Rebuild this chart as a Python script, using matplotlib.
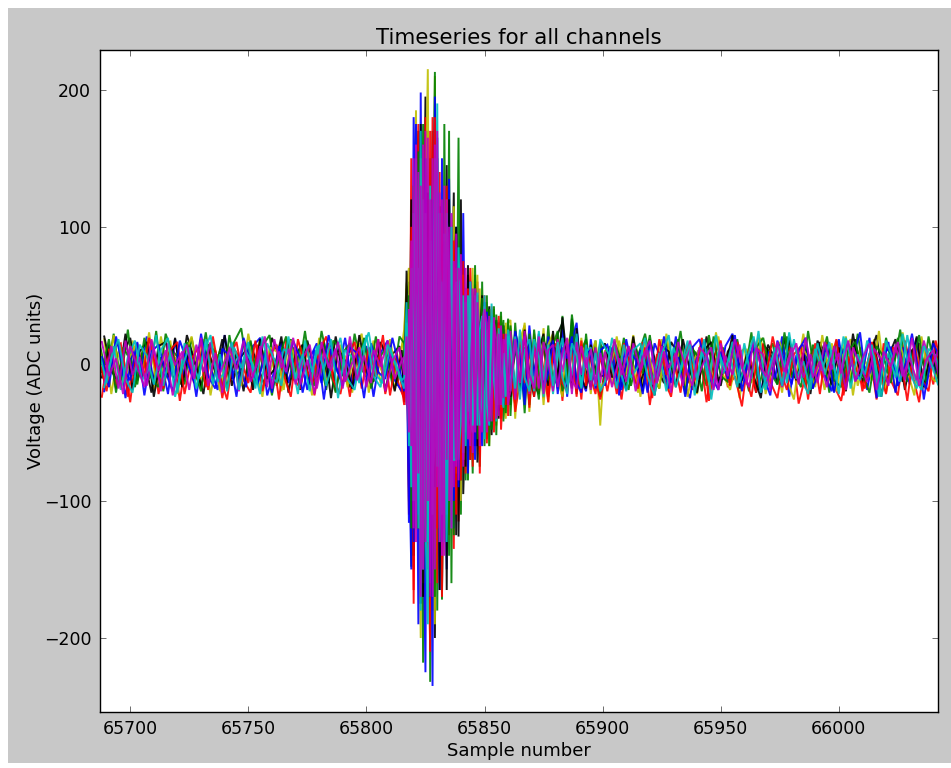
import numpy as np
import matplotlib
matplotlib.use("Agg")
import matplotlib.pyplot as plt
from matplotlib.patches import Rectangle

title = "Timeseries for all channels"
xlabel = "Sample number"
ylabel = "Voltage (ADC units)"
xticks = [65700, 65750, 65800, 65850, 65900, 65950, 66000]
yticks = [-200, -100, 0, 100, 200]

# Hand-read samples. before: every 3rd sample up to the burst; burst: every sample from 65816;
# decay: every 2nd sample from 65861; after: every 3rd sample from 65901
yellow_before = [18,-22,9,-14,17,-6,12,-19,20,-8,5,-16,14,-11,18,-23,7,-3,15,-17,11,-9,19,-13,4,-20,16,-5,13,-18,10,-12,18,-7,6,-21,15,-10,17,-14,8,-19,12]
yellow_burst = [20,55,-100,-115,70,185,-60,-200,90,-120,160,-40,-180,210,-60,-150,120,60,-140,100,40,-100,80,-20,-90,60,50,-70,30,70,-60,10,55,-50,-10,45,-60,20,40,-45,5,35,-30,-40,30]
yellow_decay = [32,-40,18,28,-35,22,-12,26,-28,15,20,-24,12,24,-18,8,16,-22,14,-45]
yellow_after = [10,-15,17,-8,21,-24,6,-12,18,-20,13,-5,16,-22,9,-17,20,-7,14,-25,11,-10,19,-16,5,-21,17,-9,22,-13,8,-19,15,-6,20,-23,12,-11,18,-15,7,-20,23,-4,16,-18,10,-12]

black_before = [-10,14,-18,7,19,-12,3,-21,13,16,-9,-15,21,4,-17,10,-6,18,-13,8,-20,15,-2,-16,19,6,-11,12,-19,17,-4,9,-14,20,-8,-17,11,5,-12,16,-20,7,13]
black_burst = [-15,35,-80,30,-150,120,170,-175,20,195,-130,-30,170,-200,60,115,-165,-20,145,-120,30,125,-125,25,120,-95,-30,65,-70,10,55,-60,-5,45,-50,15,40,-35,-20,30,-40,10,28,-25,5]
black_decay = [-30,24,5,-25,20,-15,-22,16,10,-18,22,30,-12,33,-20,14,-6,-17,11,-9]
black_after = [-8,15,-17,4,12,-20,18,-3,-14,16,7,-19,13,-11,20,-6,-16,9,17,-12,3,-21,14,8,-15,19,-7,-13,11,-18,16,2,-20,12,-9,18,-14,6,21,-16,-5,13,-19,10,15,-10,17,-7]

red_before = [-24,11,-16,6,-28,15,-9,17,-22,3,13,-27,8,-14,18,-19,10,-25,5,16,-12,-21,14,-7,11,-26,17,-10,-18,12,-23,6,15,-20,9,-24,13,-6,-15,18,-22,4,-17]
red_burst = [-25,45,-110,150,-175,80,175,-150,-60,180,-90,-210,180,60,-160,140,-170,30,90,-125,70,-135,95,-115,30,60,-80,-25,70,-75,25,60,-80,20,50,-55,-15,42,-50,10,35,-48,-12,25,-38]
red_decay = [18,-35,-12,26,-32,14,-20,18,-24,9,12,-27,18,-14,8,-26,15,-10,-22,6]
red_after = [-20,9,-26,13,-14,16,-30,7,-11,-24,14,-6,-19,12,-28,5,17,-17,-9,-31,10,-21,15,-13,-25,6,14,-29,-8,11,-22,16,-16,-27,4,12,-20,8,-26,15,-12,-23,17,-6,-28,9,-15,14]

green_before = [15,-9,22,-13,25,-17,8,-11,24,-20,12,5,-15,19,-6,23,-12,10,-18,16,26,-8,-14,13,21,-16,4,18,-10,24,-13,7,-19,17,11,-15,22,-4,-12,20,-9,15,-16]
green_burst = [10,50,60,-148,100,-100,130,95,-218,60,170,-232,70,213,-180,40,-172,175,-80,170,-160,85,-40,165,-110,70,-85,60,10,-80,72,-30,-75,60,-40,50,-60,25,42,-52,18,38,-42,10,33]
green_decay = [-38,30,-20,12,-30,25,-8,-20,28,-16,-10,35,-18,36,8,-20,22,-13,17,-24]
green_after = [13,-11,19,-16,6,22,-8,-18,16,-4,24,-14,9,-20,21,-7,12,-15,18,-10,23,-19,5,15,-12,20,-6,-17,24,-9,11,-21,17,-3,-14,22,-11,8,-18,19,-5,25,-13,10,-16,20,-8,14]

blue_before = [-20,7,16,-25,12,-8,20,-15,3,-22,18,-10,9,-24,14,-3,-19,21,-11,6,-17,13,19,-23,-5,16,-14,10,-21,4,15,-26,11,-7,19,-18,-2,13,-24,8,17,-12,-20]
blue_burst = [-12,40,-60,-150,180,60,-190,198,-90,-225,150,40,-235,195,-20,-165,150,-60,-150,135,-20,-120,100,10,-100,110,-30,-70,60,-10,-60,55,5,-50,45,-10,-45,35,5,-35,30,-20,-30,25,-5]
blue_decay = [25,-28,12,-22,28,-10,15,-25,20,6,-18,25,-24,16,30,-12,-20,18,-8,14]
blue_after = [-16,12,-23,18,-7,10,-21,15,3,-18,20,-12,-25,8,16,-9,-19,13,22,-15,-4,17,-22,9,-11,20,-24,6,14,-17,11,-8,-20,18,-13,5,23,-19,10,-6,16,-21,12,-15,19,-26,7,-10]

cyan_before = [8,-14,13,-19,5,17,-12,-4,21,-16,9,-21,15,2,-11,18,-15,7,-20,12,-3,16,-18,20,-9,-13,11,6,-22,17,-6,14,-16,3,19,-11,-19,10,23,-8,-14,12,-5]
cyan_burst = [-18,30,20,-90,110,-120,70,-180,120,-110,-190,130,-80,-60,190,-130,60,-130,110,60,-120,50,60,-70,-40,50,-60,50,-40,-50,50,-45,25,35,-55,25,-38,30,10,-42,22,-20,-32,18,20]
cyan_decay = [-20,20,-26,10,18,-20,24,-12,14,-22,5,19,-15,-8,22,-17,9,12,-16,18]
cyan_after = [6,-18,14,-10,-2,19,-15,8,-20,12,-4,17,-23,10,-13,21,-7,5,-17,15,-11,24,-19,2,13,-14,18,-9,-22,11,-5,16,-12,20,-18,7,-8,14,-24,17,3,-13,21,-10,-19,11,6,-16]

magenta_before = [-14,13,-18,17,-8,5,-16,12,-20,15,-1,9,-19,14,-6,16,-12,2,15,-20,7,-10,13,-17,18,-3,11,-15,4,14,-18,8,-5,16,-13,1,12,-17,10,-2,17,-11,3]
magenta_burst = [5,-30,40,-60,150,-130,140,-170,160,-130,165,-170,150,-150,170,-130,120,-140,120,-100,110,-90,95,-85,80,-75,70,-55,60,-65,55,45,-60,30,42,-50,35,-42,30,18,-38,28,-25,22,-30]
magenta_decay = [24,-26,8,20,-22,14,-18,16,2,-20,18,-6,14,-22,16,-8,5,-19,12,-14]
magenta_after = [9,-17,4,-13,15,-5,10,-20,13,-3,8,-16,17,-11,2,12,-19,6,-8,14,-15,18,-2,-12,9,-17,3,15,-10,7,-14,16,-4,8,-19,12,-1,-13,11,3,-16,14,-9,4,-12,17,-3,9]

pink_before = [16,-9,4,-22,13,-2,-17,18,-5,10,-23,2,14,-11,19,-16,8,-21,12,-4,17,-13,1,20,-18,9,-6,19,-15,3,-22,16,-3,11,-18,20,-12,6,-14,18,-20,2,12]
pink_burst = [-8,20,-50,90,-120,160,-80,130,-150,170,-100,120,-170,160,-90,125,-140,130,-70,100,-120,75,-75,70,60,-70,55,-40,-60,55,-50,45,-30,-50,40,30,-42,-20,34,-40,22,-30,18,14,-28]
pink_decay = [-20,18,-14,24,-8,-18,20,-22,10,14,-17,8,19,-12,-18,13,-3,11,-15,8]
pink_after = [-12,18,-8,13,-20,5,17,-14,9,-21,16,-2,-16,12,6,-19,15,-9,18,-3,-17,11,7,-20,16,-6,12,-15,19,-10,2,-17,13,-7,17,-13,4,15,-19,9,-2,16,-12,19,-16,3,10,-14]

blue2_before = [5,-17,20,-3,-12,16,-23,9,14,-6,-20,17,2,-13,22,-9,-18,11,6,-24,19,1,-15,8,-21,13,-7,17,4,-19,10,-14,21,-2,-16,12,8,-25,15,-6,-11,19,-3]
blue2_burst = [-20,15,-116,60,-130,175,-110,60,-100,150,-60,-160,120,-40,165,-70,-130,80,-110,60,60,-100,35,-90,70,-40,30,-80,45,-30,-70,40,-25,-60,30,38,-35,-28,25,-32,14,24,-28,-10,22]
blue2_decay = [-16,24,6,-30,16,-9,22,-19,-6,17,-22,12,4,20,-14,-21,12,6,-18,10]
blue2_after = [14,-6,-19,11,3,-22,16,-9,20,-14,5,-24,12,18,-4,-17,9,-11,21,-20,6,13,-8,-23,17,2,-15,10,19,-18,-3,14,-21,7,15,-12,-6,19,-25,8,12,-16,-2,22,-9,-18,15,4]

green2_before = [-6,18,-21,12,3,-15,19,-10,-17,22,7,-13,16,-4,-20,14,9,-19,21,-8,-2,17,-14,10,-23,5,20,-12,13,-7,-16,24,-1,-21,8,15,-10,19,-18,3,11,-15,20]
green2_burst = [15,-30,50,-120,130,-40,155,-130,175,-60,-120,150,-60,-170,150,-90,100,-120,60,-140,60,-125,70,60,-85,45,55,-85,35,-60,65,-55,-20,48,-60,10,40,-48,-22,36,-30,18,32,-36,15]
green2_decay = [28,-24,14,-36,22,-4,-26,20,-12,14,24,-20,-3,28,-22,10,18,-14,-6,16]
green2_after = [-11,16,2,-19,13,-7,21,-14,8,-3,18,-22,11,4,-16,20,-9,-13,17,1,-20,12,19,-6,-15,23,-10,7,-18,14,-2,20,-12,-17,10,16,-7,-21,13,5,-14,19,-11,-4,21,-13,8,-17]

red2_before = [2,-20,12,15,-24,7,-11,19,-5,-18,10,16,-22,4,12,-17,20,-9,-26,11,3,-14,17,-20,6,14,-8,-24,18,-1,-15,9,20,-12,-22,5,16,-18,12,-9,21,-23,7]
red2_burst = [-30,25,-90,100,-165,140,-40,150,-130,120,-150,170,-50,180,-120,50,110,-110,130,-70,-60,90,-110,55,-85,75,-50,55,-70,30,-55,50,-65,5,42,-58,20,32,-42,-5,30,-40,22,-30,12]
red2_decay = [-8,-30,20,-14,10,-24,17,-4,-28,12,16,-14,-20,10,-24,17,-16,6,-12,-26]
red2_after = [8,-22,15,-4,-18,12,-25,18,-8,5,-21,14,-12,19,-27,3,10,-16,16,-6,-24,11,-13,20,-3,-19,7,13,-26,15,-10,-1,18,-23,9,-7,-18,16,-4,-22,12,6,-27,14,-11,-20,17,-5]

cyan2_before = [-17,4,18,-11,-21,14,6,-15,10,19,-24,-2,12,-18,8,21,-13,-6,16,-19,9,-1,-22,15,3,-16,20,-11,7,-20,13,-4,18,-25,10,5,-14,21,-9,-17,14,2,-12]
cyan2_burst = [-10,45,-60,70,-100,150,-120,170,-150,110,-130,90,-110,150,-75,110,-110,95,-130,30,100,-70,-70,85,20,-65,45,-35,60,-45,-10,52,-45,-25,50,-30,-45,44,-12,-30,26,-26,8,-24,25]
cyan2_decay = [12,-18,25,-10,-20,18,6,-24,12,-16,16,-10,-22,15,6,-18,14,-12,8,-20]
cyan2_after = [-13,19,-2,-20,10,15,-9,-23,7,21,-17,1,14,-12,18,-26,9,-5,16,-14,3,20,-21,-7,12,-16,23,-11,2,-19,15,-8,10,-22,19,-3,-12,17,5,-24,8,-10,22,-6,-18,13,1,-15]

yellow2_before = [11,-15,21,-18,2,13,-9,23,-14,-3,17,-22,6,20,-12,-7,16,-20,13,1,-16,22,-5,-24,12,9,-19,17,-10,5,-23,19,-13,-1,14,-17,10,22,-21,4,-7,18,-11]
yellow2_burst = [25,58,70,-60,40,90,-120,130,-160,100,215,-100,40,-190,150,-100,90,-70,120,-100,-60,115,-80,40,-100,65,-70,30,50,-60,30,65,-55,-20,38,-45,15,32,-40,-28,28,-32,-10,30,-26]
yellow2_decay = [26,-30,8,30,-20,-10,16,-30,14,22,-12,-24,18,10,-20,19,-14,6,17,-18]
yellow2_after = [-6,20,-13,9,-21,16,-3,-18,22,-10,12,-24,4,15,-15,23,-8,-19,7,11,-14,19,-22,2,16,-11,-26,13,5,-17,21,-7,-20,10,18,-16,3,-12,24,-21,9,14,-5,-23,20,-8,-13,17]

black2_before = [20,-5,-13,22,-19,9,16,-24,5,-10,19,-17,12,-2,-22,15,-8,21,-16,3,10,-19,18,-11,-4,20,-21,7,14,-15,-9,17,-25,11,2,-18,21,-6,-13,16,4,-20,10]
black2_burst = [-28,68,-70,120,-140,70,-120,175,-170,80,125,-170,110,-90,125,-165,70,90,-165,120,-100,55,100,-126,20,50,-75,72,-25,-60,58,-72,15,50,-45,-5,42,-52,18,32,-34,-8,28,-30,12]
black2_decay = [-24,14,-18,25,-6,-24,10,22,-16,24,-12,34,2,-18,26,-10,-18,14,-5,8]
black2_after = [15,-10,6,-19,20,-14,3,-23,13,9,-17,18,-5,-21,10,16,-12,-3,21,-18,7,-9,-25,14,4,-16,19,-12,8,-22,17,1,-15,12,-20,22,-7,-11,16,-24,5,18,-13,-1,20,-17,9,-8]

channels = [
    ("y", yellow_before, yellow_burst, yellow_decay, yellow_after, 0),
    ("k", black_before, black_burst, black_decay, black_after, 1),
    ("g", green_before, green_burst, green_decay, green_after, 2),
    ("r", red_before, red_burst, red_decay, red_after, 1),
    ("b", blue_before, blue_burst, blue_decay, blue_after, 0),
    ("y", yellow2_before, yellow2_burst, yellow2_decay, yellow2_after, 2),
    ("k", black2_before, black2_burst, black2_decay, black2_after, 0),
    ("g", green2_before, green2_burst, green2_decay, green2_after, 1),
    ("r", red2_before, red2_burst, red2_decay, red2_after, 2),
    ("b", blue2_before, blue2_burst, blue2_decay, blue2_after, 1),
    ("c", cyan_before, cyan_burst, cyan_decay, cyan_after, 2),
    ("m", magenta_before, magenta_burst, magenta_decay, magenta_after, 0),
    ("c", cyan2_before, cyan2_burst, cyan2_decay, cyan2_after, 0),
    ("m", pink_before, pink_burst, pink_decay, pink_after, 1),
]
colors = {"b": "#0000ff", "g": "#008000", "r": "#ff0000", "c": "#00bfbf",
          "m": "#bf00bf", "y": "#bfbf00", "k": "#000000"}

W, H = 951, 768
fig = plt.figure(figsize=(W / 100, H / 100), dpi=100, facecolor="white")
fig.patches.append(Rectangle((8 / W, 1 - 763 / H), (W - 8) / W, 755 / H,
                             transform=fig.transFigure, facecolor="#c8c8c8",
                             edgecolor="none", zorder=-10))
ax = fig.add_axes([99.5 / W, 1 - 712 / H, (938 - 99.5) / W, (712 - 50) / H])

for key, before, burst, decay, after, lag in channels:
    x_before = 65815 - lag - 3 * np.arange(len(before))[::-1]
    x_burst = 65816 + np.arange(len(burst))
    x_decay = 65861 + 2 * np.arange(len(decay))
    x_after = 65901 + lag + 3 * np.arange(len(after))
    xs = np.concatenate([x_before, x_burst, x_decay, x_after])
    ys = np.concatenate([before, burst, decay, after])
    ax.plot(xs, ys, color=colors[key], lw=1.4, alpha=0.9, solid_joinstyle="miter")

ax.set_xlim(65687, 66042)
ax.set_ylim(-254, 229)
ax.set_xticks(xticks)
ax.set_yticks(yticks)
ax.ticklabel_format(useOffset=False, style="plain", axis="x")
ax.tick_params(direction="in", length=4, width=0.6, color="#555555", top=True, right=True,
               labelsize=12.5, pad=6)
for s in ax.spines.values():
    s.set_linewidth(1.0)
ax.set_title(title, fontsize=15.4, pad=4)
ax.set_xlabel(xlabel, fontsize=13, labelpad=3)
ax.set_ylabel(ylabel, fontsize=13, labelpad=-1)
fig.savefig("out.png", dpi=100, facecolor=fig.get_facecolor())
